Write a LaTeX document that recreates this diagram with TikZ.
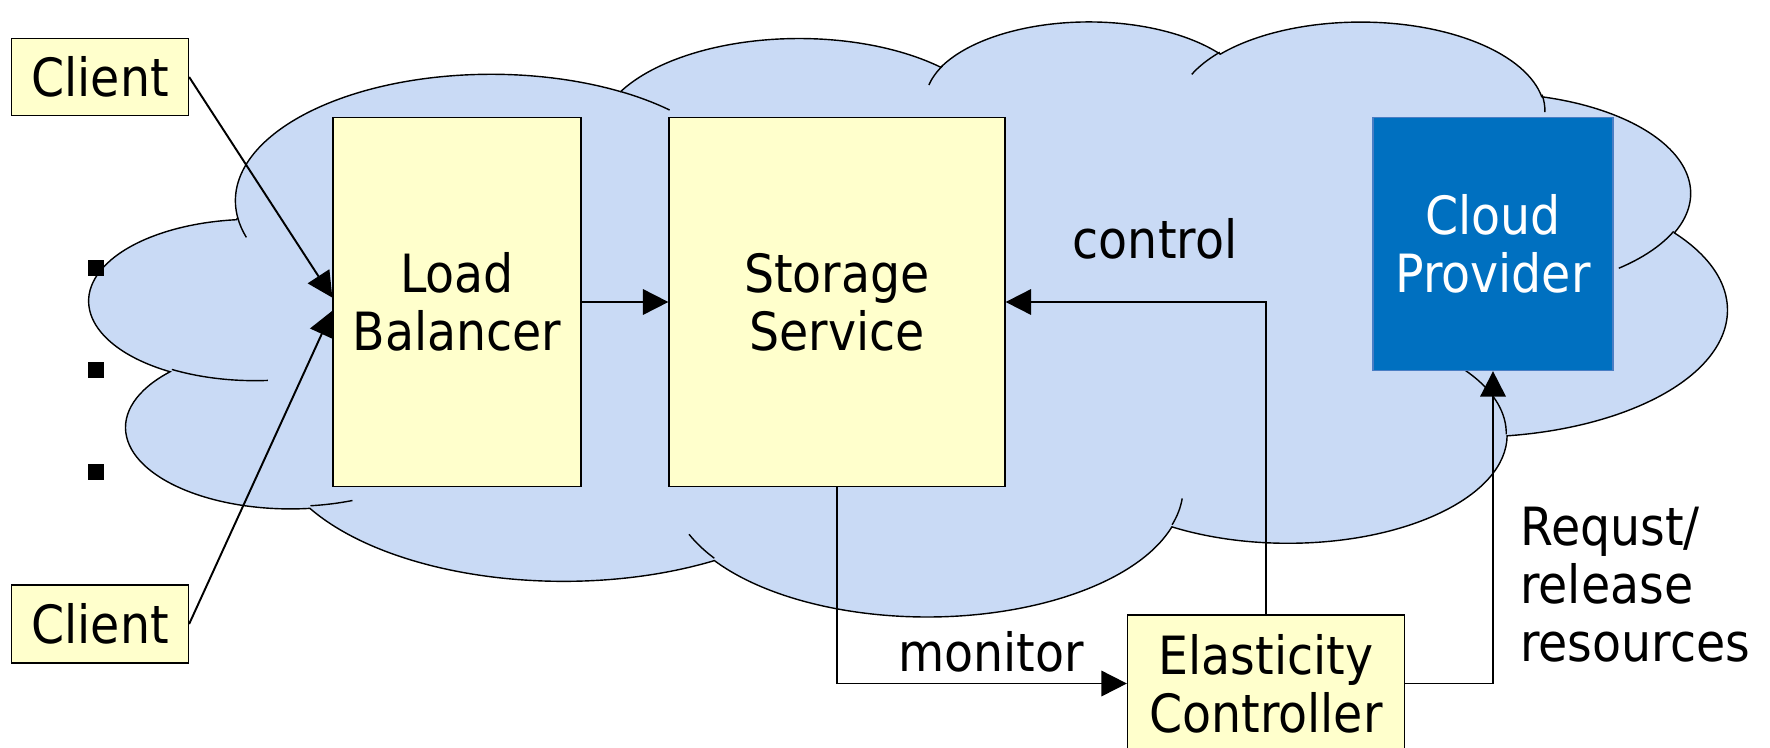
\documentclass[tikz,border=0pt]{standalone}
\usepackage{fontspec}
\setmainfont{DejaVu Sans Condensed}
\usetikzlibrary{arrows.meta,positioning}

\definecolor{cloudblue}{HTML}{C9DAF5}
\definecolor{boxyellow}{HTML}{FFFFCC}
\definecolor{provblue}{HTML}{0070C0}
\definecolor{provedge}{HTML}{4A7EC4}

\begin{document}
\begin{tikzpicture}[x=0.02cm,y=-0.02cm,
	font=\fontsize{30}{33}\selectfont,
	box/.style={draw=black,line width=0.75pt,fill=boxyellow,align=center,inner sep=0pt},
	link/.style={line width=1.1pt,-{Triangle[length=14.5pt,width=14.5pt]}},
	dotsq/.style={fill=black,inner sep=0pt,minimum width=0.32cm,minimum height=0.33cm}]
\useasboundingbox (0,0) rectangle (1770,747);

\begin{scope}[shift={(90,20)},x=0.075787cm,y=-0.0275463cm]
\path[fill=cloudblue,draw=black,line width=0.8pt] (39.00,143.70)
	\foreach \rx/\ry/\sa/\sw [evaluate=\sa as \ta using {atan2(\rx*sin(\sa),\ry*cos(\sa))},
		evaluate=\sw as \tb using {atan2(\rx*sin(\sa+\sw),\ry*cos(\sa+\sw))-360*round((atan2(\rx*sin(\sa+\sw),\ry*cos(\sa+\sw))-(\ta)-(\sw))/360)}]
	in {67.53/91.90/-190.4875/123.7805, 53.33/72.67/-144.1024/89.9452,
		43.65/59.45/-145.8079/99.7230, 48.57/65.95/-130.9861/117.2417,
		53.33/72.73/-78.7089/109.0269, 67.75/92.20/-46.2673/130.2690,
		57.85/78.67/0.6250/114.0333, 67.52/92.15/22.4516/115.1726,
		77.20/105.43/66.2426/75.7110, 43.60/59.18/-274.9421/146.7356,
		43.45/59.45/-246.8285/152.5189} {
		arc[start angle=\ta,end angle=\tb,x radius=\rx,y radius=\ry]
	} -- cycle;

\foreach \px/\py/\rx/\ry/\sa/\sw [evaluate=\sa as \ta using {atan2(\rx*sin(\sa),\ry*cos(\sa))},
	evaluate=\sw as \tb using {atan2(\rx*sin(\sa+\sw),\ry*cos(\sa+\sw))-360*round((atan2(\rx*sin(\sa+\sw),\ry*cos(\sa+\sw))-(\ta)-(\sw))/360)}]
in {46.93/261.77/43.45/59.45/86.7420/26.4295, 69.28/348.99/43.60/59.18/73.6105/11.4475,
	164.78/390.90/67.52/92.15/137.6242/14.0811, 288.27/347.51/67.52/92.15/6.4533/15.9984,
	341.29/229.54/57.85/78.67/-70.2924/70.9174, 417.98/153.54/53.33/72.73/30.3180/27.7515,
	383.24/54.26/48.57/65.95/-13.7443/14.8547, 290.78/39.52/48.57/65.95/-149.1815/18.1954,
	221.41/47.20/43.65/59.45/-163.4943/17.6864, 140.00/51.92/67.53/91.90/-66.7070/12.3194,
	41.27/157.89/67.53/91.90/157.6544/11.8582} {
	\draw[line width=0.8pt] (\px,\py) arc[start angle=\ta,end angle=\tb,x radius=\rx,y radius=\ry];
}
\end{scope}

\node[box,minimum width=3.54cm,minimum height=1.54cm] (client1) at (100,77) {Client};
\node[box,minimum width=3.54cm,minimum height=1.56cm] (client2) at (100,624) {Client};
\node[box,minimum width=4.96cm,minimum height=7.38cm] (lb) at (457,302) {Load\\Balancer};
\node[box,minimum width=6.72cm,minimum height=7.38cm] (ss) at (837,302) {Storage\\Service};
\node[box,fill=provblue,draw=provedge,text=white,minimum width=4.8cm,minimum height=5.06cm] (cp) at (1493,244) {Cloud\\Provider};
\node[box,minimum width=5.54cm,minimum height=2.74cm] (ec) at (1266,683.5) {Elasticity\\Controller};

\node (ctl) at (1155,239) {control};
\node (mon) at (991,652) {monitor};
\node[align=left,anchor=west,inner sep=0pt] (req) at (1520,585) {Requst/\\release\\resources};

\foreach \y [count=\i] in {268,370,472}
	\node[dotsq] (dot\i) at (96,\y) {};

\draw[link] (client1.east) -- (lb.178);
\draw[link] (client2.east) -- (lb.184);
\draw[link] (lb) -- (ss);
\draw[link] (ss.south) |- (ec.west);
\draw[link] (ec.north) |- (ss.east);
\draw[link] (ec.east) -| (cp.south);

\end{tikzpicture}
\end{document}
